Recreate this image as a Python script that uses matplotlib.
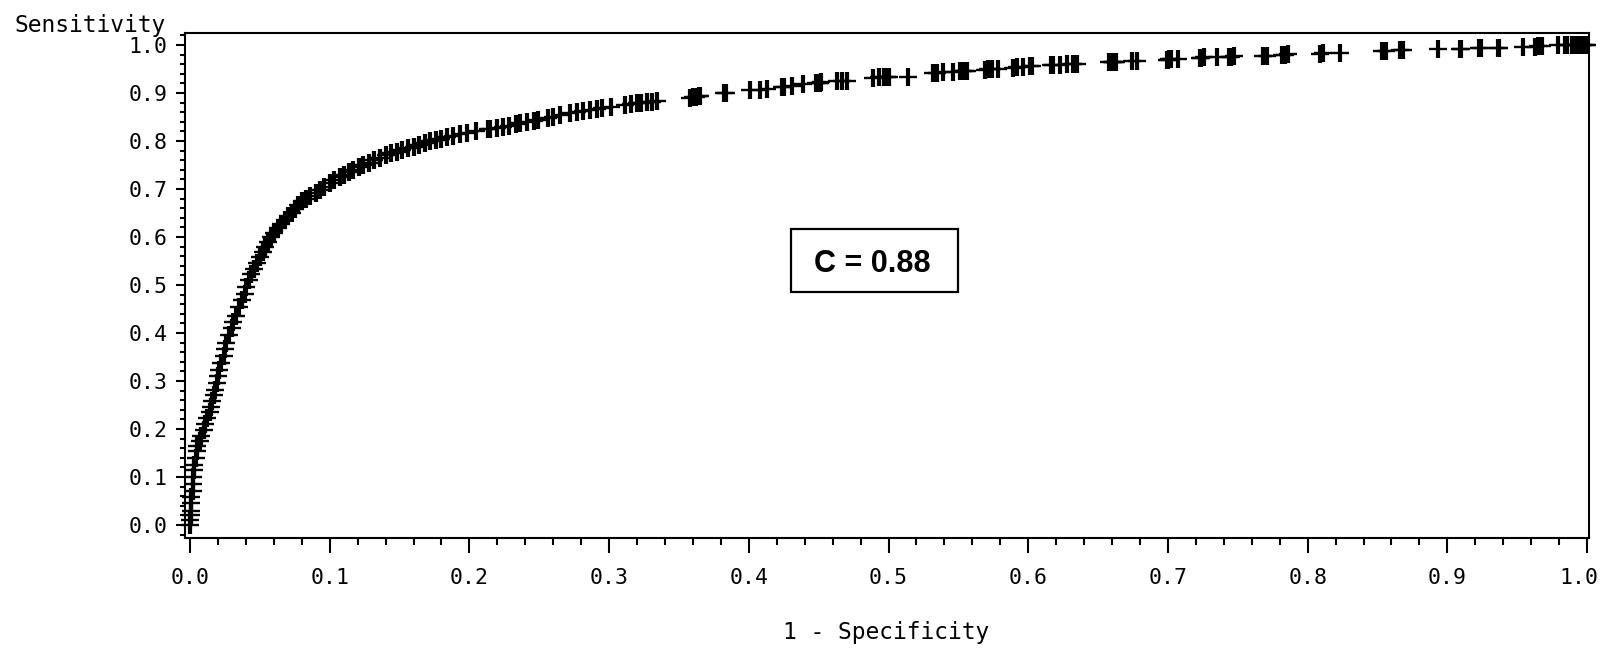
import matplotlib
matplotlib.use("Agg")
import matplotlib.pyplot as plt
from matplotlib.ticker import MultipleLocator, FormatStrFormatter
from matplotlib.patches import Rectangle
from matplotlib.transforms import ScaledTranslation

# 1 - Specificity (false positive rate)
fpr = [
    0.000, 0.000, 0.001, 0.001, 0.001, 0.001, 0.002, 0.002, 0.002, 0.003,
    0.003, 0.004, 0.005, 0.005, 0.007, 0.008, 0.010, 0.011, 0.012, 0.014,
    0.015, 0.016, 0.017, 0.018, 0.019, 0.020, 0.021, 0.022, 0.024, 0.025,
    0.026, 0.028, 0.030, 0.031, 0.033, 0.035, 0.037, 0.039, 0.040, 0.042,
    0.044, 0.046, 0.048, 0.050, 0.052, 0.054, 0.056, 0.058, 0.060, 0.063,
    0.065, 0.068, 0.070, 0.073, 0.075, 0.077, 0.080, 0.083, 0.086, 0.090,
    0.093, 0.096, 0.100, 0.103, 0.107, 0.110, 0.114, 0.117, 0.121, 0.124,
    0.128, 0.132, 0.136, 0.140, 0.144, 0.148, 0.152, 0.156, 0.160, 0.164,
    0.168, 0.172, 0.176, 0.180, 0.184, 0.188, 0.193, 0.198,
    0.205, 0.213, 0.215, 0.220, 0.224, 0.228, 0.233, 0.236, 0.241, 0.246,
    0.249, 0.256, 0.260, 0.265, 0.272, 0.277, 0.281, 0.286, 0.291, 0.295,
    0.301, 0.311, 0.316, 0.320, 0.323, 0.327, 0.331, 0.334,
    0.358, 0.360, 0.362, 0.364, 0.365, 0.382, 0.384, 0.401, 0.408, 0.413,
    0.424, 0.425, 0.431, 0.439, 0.448, 0.450, 0.451, 0.452, 0.463, 0.467,
    0.470, 0.489, 0.493, 0.497, 0.499, 0.500,
    0.514, 0.532, 0.535, 0.539, 0.546,
    0.551, 0.553, 0.555, 0.556, 0.569, 0.571, 0.574, 0.578, 0.589, 0.592,
    0.596, 0.601, 0.603, 0.616, 0.618, 0.623, 0.628, 0.632, 0.635, 0.658,
    0.660, 0.661, 0.662, 0.663, 0.674, 0.678, 0.699, 0.700, 0.701, 0.702,
    0.707, 0.723, 0.724, 0.726, 0.735, 0.744, 0.745, 0.747, 0.768,
    0.771, 0.782, 0.784, 0.786, 0.809, 0.811, 0.823, 0.853, 0.856, 0.866,
    0.868, 0.893, 0.909, 0.910, 0.923, 0.924, 0.936, 0.937, 0.954, 0.963,
    0.965, 0.968, 0.979, 0.984, 0.986, 0.989, 0.992, 0.994, 0.997, 0.999,
    1.000,
]

# Sensitivity (true positive rate)
tpr = [
    0.000, 0.010, 0.020, 0.030, 0.045, 0.058, 0.070, 0.085, 0.100, 0.115,
    0.125, 0.140, 0.155, 0.165, 0.175, 0.185, 0.198, 0.210, 0.222, 0.235,
    0.246, 0.258, 0.270, 0.282, 0.296, 0.310, 0.324, 0.338, 0.352, 0.366,
    0.379, 0.396, 0.410, 0.422, 0.436, 0.454, 0.468, 0.482, 0.496, 0.510,
    0.522, 0.534, 0.546, 0.558, 0.569, 0.580, 0.590, 0.600, 0.609, 0.618,
    0.627, 0.635, 0.643, 0.651, 0.659, 0.667, 0.674, 0.680, 0.686, 0.692,
    0.698, 0.705, 0.712, 0.718, 0.725, 0.730, 0.735, 0.740, 0.745, 0.750,
    0.755, 0.760, 0.765, 0.770, 0.774, 0.778, 0.782, 0.785, 0.788, 0.792,
    0.796, 0.799, 0.802, 0.805, 0.808, 0.811, 0.814, 0.817,
    0.820, 0.824, 0.825, 0.827, 0.829, 0.832, 0.835, 0.837, 0.839, 0.842,
    0.844, 0.848, 0.851, 0.855, 0.858, 0.860, 0.862, 0.865, 0.867, 0.869,
    0.871, 0.875, 0.877, 0.879, 0.880, 0.881, 0.882, 0.883,
    0.890, 0.891, 0.892, 0.893, 0.893, 0.900, 0.901, 0.906, 0.907, 0.908,
    0.912, 0.913, 0.914, 0.919, 0.920, 0.921, 0.921, 0.922, 0.924, 0.925,
    0.926, 0.932, 0.933, 0.933, 0.933, 0.933,
    0.934, 0.941, 0.942, 0.943, 0.944,
    0.945, 0.945, 0.946, 0.946, 0.948, 0.949, 0.950, 0.951, 0.953, 0.954,
    0.955, 0.956, 0.957, 0.958, 0.958, 0.959, 0.960, 0.961, 0.961, 0.964,
    0.964, 0.965, 0.964, 0.965, 0.966, 0.966, 0.969, 0.969, 0.970, 0.970,
    0.970, 0.973, 0.973, 0.974, 0.975, 0.976, 0.976, 0.977, 0.978,
    0.978, 0.979, 0.980, 0.981, 0.982, 0.983, 0.984, 0.987, 0.988, 0.989,
    0.990, 0.991, 0.992, 0.992, 0.993, 0.993, 0.994, 0.994, 0.995, 0.996,
    0.997, 0.998, 0.999, 0.999, 1.000, 1.000, 1.000, 1.000, 1.000, 1.000,
    1.000,
]

c_label = "C = 0.88"
x_label = "1 - Specificity"
y_label = "Sensitivity"

W, H = 1602, 651
fig = plt.figure(figsize=(W / 100, H / 100), dpi=100)
ax = fig.add_axes([185 / W, 1 - 538 / H, (1589 - 185) / W, (538 - 32.7) / H])

# "+" symbols only (no joining line)
ax.plot(fpr, tpr, linestyle="none", color="black", marker="+", markersize=12.5,
        markeredgewidth=1.7, clip_on=False, zorder=3)
# bolder vertical strokes, as in the original symbol font
ax.plot(fpr, tpr, linestyle="none", color="black", marker="|", markersize=12.5,
        markeredgewidth=3.0, clip_on=False, zorder=3)

ax.set_xlim(-0.0036, 1.0014)
ax.set_ylim(-0.027, 1.0256)

mono = "DejaVu Sans Mono"
ax.xaxis.set_major_locator(MultipleLocator(0.1))
ax.xaxis.set_minor_locator(MultipleLocator(0.02))
ax.yaxis.set_major_locator(MultipleLocator(0.1))
ax.yaxis.set_minor_locator(MultipleLocator(0.02))
ax.xaxis.set_major_formatter(FormatStrFormatter("%.1f"))
ax.yaxis.set_major_formatter(FormatStrFormatter("%.1f"))

ax.tick_params(axis="x", which="major", length=10.5, width=1.5, pad=11,
               labelsize=15.5, direction="out")
ax.tick_params(axis="x", which="minor", length=5, width=1.5, direction="out")
ax.tick_params(axis="y", which="major", length=6.5, width=1.5, pad=6,
               labelsize=15.5, direction="out")
ax.tick_params(axis="y", which="minor", length=3.6, width=1.5, direction="out")
for lab in ax.get_xticklabels() + ax.get_yticklabels():
    lab.set_family(mono)

fig.canvas.draw()
for l in ax.get_xticklabels():
    if l.get_text() == "1.0":
        l.set_transform(l.get_transform() + ScaledTranslation(-8 / 100, 0, fig.dpi_scale_trans))

for sp in ax.spines.values():
    sp.set_linewidth(1.5)
    sp.set_color("black")

fig.text(15 / W, 1 - 32 / H, y_label, family=mono, fontsize=16.5,
         ha="left", va="baseline")
fig.text(886 / W, 1 - 639 / H, x_label, family=mono, fontsize=16.5,
         ha="center", va="baseline")

# annotation box
ax.add_patch(Rectangle((0.4302, 0.4854), 0.5498 - 0.4302, 0.6167 - 0.4854,
                       fill=False, edgecolor="black", lw=1.6, zorder=4))
ax.text(0.4887, 0.5277, c_label, family="Liberation Sans", weight="bold",
        fontsize=22, ha="center", va="baseline", zorder=5)

fig.savefig("out.png", dpi=100, facecolor="white")
